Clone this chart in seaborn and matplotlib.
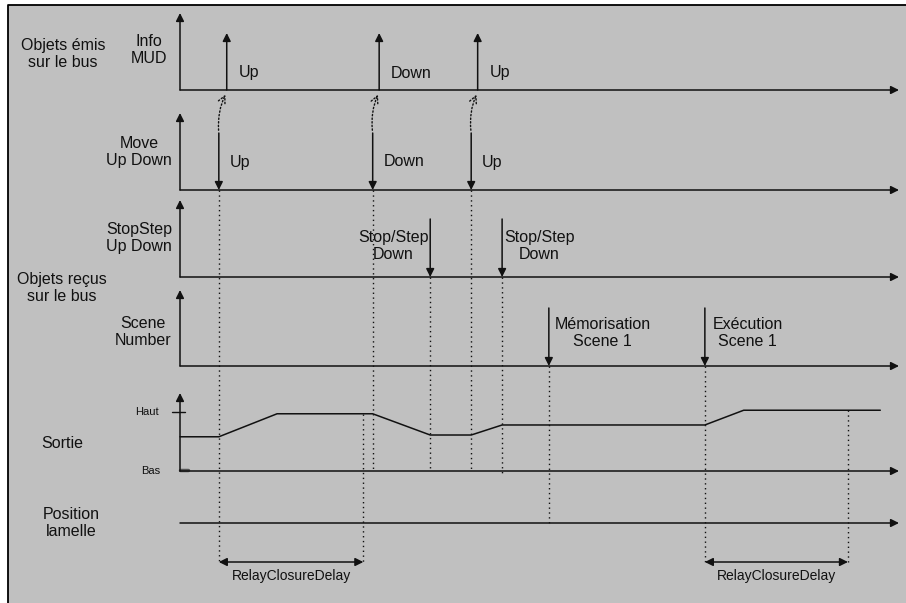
import numpy as np
import pandas as pd
import matplotlib
matplotlib.use("Agg")
import matplotlib.pyplot as plt
from matplotlib.patches import Rectangle, FancyArrowPatch
import seaborn as sns

# --- data (time units along the diagram axis, 0..100) ---
info_times = [6.5, 27.7, 41.4]
info_labels = ["Up", "Down", "Up"]
move_times = [5.4, 26.8, 40.5]
move_labels = ["Up", "Down", "Up"]
stop_times = [34.8, 44.8]
stop_labels = ["Stop/Step\nDown", "Stop/Step\nDown"]
scene_times = [51.3, 73.0]
scene_labels = ["Mémorisation\nScene 1", "Exécution\nScene 1"]
sortie_t = [0, 5.4, 13.5, 26.8, 34.8, 40.5, 44.8, 73.0, 78.4, 97.4]
sortie_level = [0.58, 0.58, 0.97, 0.97, 0.61, 0.61, 0.78, 0.78, 1.03, 1.03]
relay_spans = [(5.4, 25.5), (73.0, 92.9)]
relay_label = "RelayClosureDelay"
row_names = ["Info\nMUD", "Move\nUp Down", "StopStep\nUp Down", "Scene\nNumber"]

# --- layout (pixels) ---
W, H = 906, 603
X0 = 180          # pixel of t = 0
SCALE = 7.19      # pixels per time unit
T_END = 100
bases = [90, 190, 277, 366]
tops = [13, 113, 200, 290]
sortie_base, sortie_top, haut_y = 471, 393, 412
pos_y = 523
relay_y = 562
FS = 11.5
LC = "#111111"


def tx(px):
    return (px - X0) / SCALE


sns.set_theme(style="white")
plt.rcParams["font.family"] = ["Liberation Sans", "DejaVu Sans"]

fig = plt.figure(figsize=(W / 100, H / 100), dpi=100)
fig.patch.set_facecolor("white")
ax = fig.add_axes([0, 0, 1, 1])
ax.set_xlim(tx(0), tx(W))
ax.set_ylim(H, 0)
ax.axis("off")

# grey panel, only left and top edges are inside the picture
ax.add_patch(Rectangle((tx(8), 5), tx(W + 20) - tx(8), H + 20,
                       facecolor="#c0c0c0", edgecolor="none", zorder=0))
ax.plot([tx(8), tx(8), tx(W + 5)], [H + 5, 5, 5], color="black", lw=1.3, zorder=0.5)

head = dict(arrowstyle="-|>", color=LC, lw=1.1, mutation_scale=12, shrinkA=0, shrinkB=0)


def arrow(x1, y1, x2, y2, **kw):
    p = dict(head)
    p.update(kw)
    ax.annotate("", xy=(x2, y2), xytext=(x1, y1), arrowprops=p)


# axes of each row
for b, t in zip(bases + [sortie_base], tops + [sortie_top]):
    arrow(0, b, T_END, b)
    arrow(0, b, 0, t)
arrow(0, pos_y, T_END, pos_y)
ax.plot([tx(172), tx(185)], [haut_y, haut_y], color=LC, lw=1)
ax.plot([tx(180), tx(188)], [sortie_base - 1, sortie_base - 1], color="#555555", lw=2.5)

# Info MUD pulses (up)
for t, lab in zip(info_times, info_labels):
    arrow(t, bases[0], t, 33)
    ax.text(t + tx(X0 + 12), 73, lab, fontsize=FS, ha="left", va="center", color=LC)

# Move Up Down pulses (down) + link to Info MUD
for t, lab, ti in zip(move_times, move_labels, info_times):
    arrow(t, 133, t, bases[1])
    ax.text(t + tx(X0 + 11), 162, lab, fontsize=FS, ha="left", va="center", color=LC)
    ax.add_patch(FancyArrowPatch((t, 133), (ti, 92), connectionstyle="arc3,rad=-0.15",
                                 arrowstyle="->", mutation_scale=13, color=LC,
                                 lw=1, linestyle=(0, (1, 1.6))))

# StopStep pulses
for t, lab, off in zip(stop_times, stop_labels, [-37, 37]):
    arrow(t, 219, t, bases[2])
    ax.text(t + tx(X0 + off), 246, lab, fontsize=FS, ha="center", va="center",
            multialignment="center", color=LC, linespacing=1.15)

# Scene pulses
for t, lab, off in zip(scene_times, scene_labels, [54, 43]):
    arrow(t, 308, t, bases[3])
    ax.text(t + tx(X0 + off), 333, lab, fontsize=FS, ha="center", va="center",
            multialignment="center", color=LC, linespacing=1.15)

# Sortie signal
df = pd.DataFrame({"t": sortie_t,
                   "y": sortie_base - np.array(sortie_level) * (sortie_base - haut_y)})
sns.lineplot(data=df, x="t", y="y", ax=ax, color=LC, lw=1.1, sort=False,
             estimator=None, legend=False)

# dotted guides
guides = [(move_times[0], bases[1], relay_y), (relay_spans[0][1], 414, relay_y),
          (move_times[1], bases[1], sortie_base), (stop_times[0], bases[2], sortie_base),
          (move_times[2], bases[1], sortie_base), (stop_times[1], bases[2], sortie_base + 3),
          (scene_times[0], bases[3], pos_y), (scene_times[1], bases[3], relay_y),
          (relay_spans[1][1], 410, relay_y)]
for t, y1, y2 in guides:
    ax.plot([t, t], [y1, y2], color=LC, lw=1, linestyle=(0, (1, 2.5)))

# relay closure delay
for a, b in relay_spans:
    arrow(a, relay_y, b, relay_y, arrowstyle="<|-|>")
    ax.text((a + b) / 2, 576, relay_label, fontsize=10, ha="center", va="center", color=LC)

# left labels
ax.text(tx(63), 54, "Objets émis\nsur le bus", fontsize=FS, ha="center", va="center", linespacing=1.15, color=LC)
ax.text(tx(62), 288, "Objets reçus\nsur le bus", fontsize=FS, ha="center", va="center", linespacing=1.15, color=LC)
for name, cy, cx in zip(row_names, [50, 152, 238, 332], [149, 139, 139, 143]):
    ax.text(tx(cx), cy, name, fontsize=FS, ha="center", va="center", linespacing=1.15, color=LC)
ax.text(tx(62), 443, "Sortie", fontsize=FS, ha="center", va="center", color=LC)
ax.text(tx(71), 523, "Position\nlamelle", fontsize=FS, ha="center", va="center", linespacing=1.15, color=LC)
ax.text(tx(159), haut_y, "Haut", fontsize=8, ha="right", va="center", color=LC)
ax.text(tx(160), sortie_base, "Bas", fontsize=8, ha="right", va="center", color=LC)

fig.savefig("out.png", dpi=100, facecolor=fig.get_facecolor())
